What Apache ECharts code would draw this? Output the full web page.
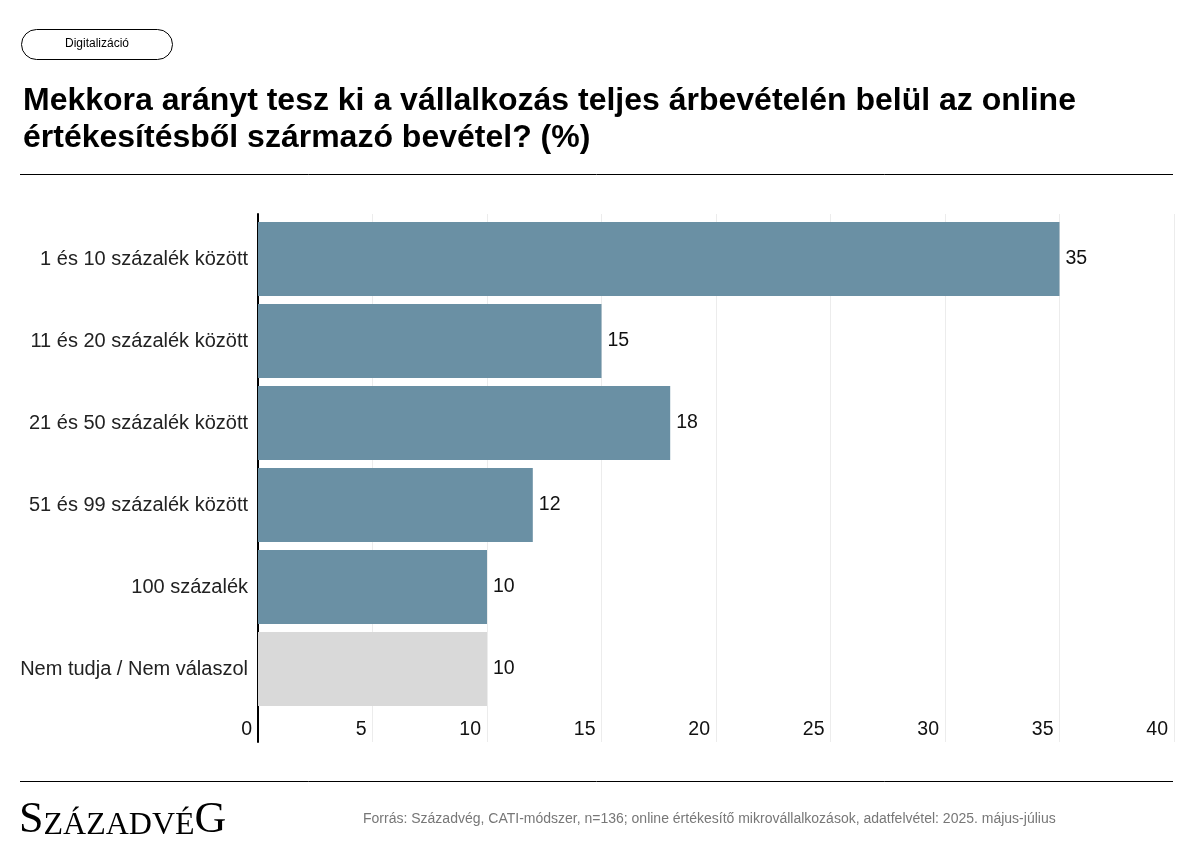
<!DOCTYPE html>
<html>
<head>
<meta charset="utf-8">
<script src="https://cdn.jsdelivr.net/npm/echarts@6/dist/echarts.min.js"></script>
<style>
  html, body { margin: 0; padding: 0; background: #fff; }
  #chart { width: 1193px; height: 856px; }
</style>
</head>
<body>
<div id="chart"></div>
<script>
'use strict';

// data
var categories = [
    '1 és 10 százalék között',
    '11 és 20 százalék között',
    '21 és 50 százalék között',
    '51 és 99 százalék között',
    '100 százalék',
    'Nem tudja / Nem válaszol'
];
var values = [35, 15, 18, 12, 10, 10];
var barColors = ['#6a90a4', '#6a90a4', '#6a90a4', '#6a90a4', '#6a90a4', '#d9d9d9'];
var axisMin = 0, axisMax = 40, axisStep = 5;

var titleText = 'Mekkora arányt tesz ki a vállalkozás teljes árbevételén belül az online\n' +
    'értékesítésből származó bevétel? (%)';
var tagText = 'Digitalizáció';
var sourceText = 'Forrás: Századvég, CATI-módszer, n=136; online értékesítő mikrovállalkozások, adatfelvétel: 2025. május-július';

var font = 'Liberation Sans, Arial, sans-serif';
var serif = 'Liberation Serif, Times New Roman, serif';
var chart = echarts.init(document.getElementById('chart'), null, { renderer: 'canvas' });

var barData = values.map(function (v, i) {
    return { value: v, itemStyle: { color: barColors[i] } };
});

var option = {
    backgroundColor: '#fff',
    animation: false,
    textStyle: { fontFamily: font },
    grid: [
        // bars
        { left: 258, right: 19, top: 218, height: 492 },
        // frame: gridlines, value labels, vertical axis line
        { left: 258, right: 19, top: 214, bottom: 114 }
    ],
    xAxis: [
        { gridIndex: 0, type: 'value', min: axisMin, max: axisMax, interval: axisStep, show: false },
        {
            gridIndex: 1, type: 'value', min: axisMin, max: axisMax, interval: axisStep,
            axisLine: { show: false },
            axisTick: { show: false },
            splitLine: { show: true, lineStyle: { color: '#ececec', width: 1 } },
            axisLabel: {
                fontSize: 19.5, color: '#111', fontFamily: font,
                align: 'right', verticalAlign: 'middle',
                margin: -12, padding: [0, 6, 0, 0],
                showMinLabel: true, showMaxLabel: true
            }
        }
    ],
    yAxis: [
        {
            gridIndex: 0, type: 'category', data: categories, inverse: true,
            axisLine: { show: false },
            axisTick: { show: false },
            splitLine: { show: false },
            axisLabel: { fontSize: 20, color: '#222', margin: 10, fontFamily: font }
        },
        {
            gridIndex: 1, type: 'value', min: 0, max: 1,
            axisLine: { show: true, lineStyle: { color: '#000', width: 2 } },
            axisTick: { show: false },
            axisLabel: { show: false },
            splitLine: { show: false }
        }
    ],
    series: [{
        type: 'bar',
        xAxisIndex: 0,
        yAxisIndex: 0,
        data: barData,
        barWidth: 74,
        label: {
            show: true, position: 'right', distance: 6,
            fontSize: 19.5, color: '#111', fontFamily: font
        }
    }],
    graphic: [
        {
            type: 'rect', x: 21.5, y: 29.5,
            shape: { width: 151, height: 30, r: 15 },
            style: { fill: '#fff', stroke: '#000', lineWidth: 1 }
        },
        {
            type: 'text', x: 97, y: 44,
            style: {
                text: tagText, fontSize: 12, fontFamily: font, fill: '#000',
                align: 'center', verticalAlign: 'middle'
            }
        },
        {
            type: 'text', x: 23, y: 83,
            style: {
                text: titleText, fontSize: 32, fontWeight: 'bold', fontFamily: font,
                fill: '#000', lineHeight: 37
            }
        },
        {
            type: 'line',
            shape: { x1: 20, y1: 174.5, x2: 1173, y2: 174.5 },
            style: { stroke: '#000', lineWidth: 1 }
        },
        {
            type: 'line',
            shape: { x1: 20, y1: 781.5, x2: 1173, y2: 781.5 },
            style: { stroke: '#000', lineWidth: 1 }
        },
        {
            type: 'text', x: 19, y: 798,
            style: {
                text: '{b|S}{s|ZÁZADVÉ}{b|G}',
                fontFamily: serif,
                fill: '#000',
                rich: {
                    b: { fontSize: 44, fontFamily: serif, fill: '#000', verticalAlign: 'bottom' },
                    s: { fontSize: 32, fontFamily: serif, fill: '#000', verticalAlign: 'bottom' }
                }
            }
        },
        {
            type: 'text', x: 363, y: 812,
            style: { text: sourceText, fontSize: 14, fontFamily: font, fill: '#777' }
        }
    ]
};

chart.setOption(option);
</script>
</body>
</html>
